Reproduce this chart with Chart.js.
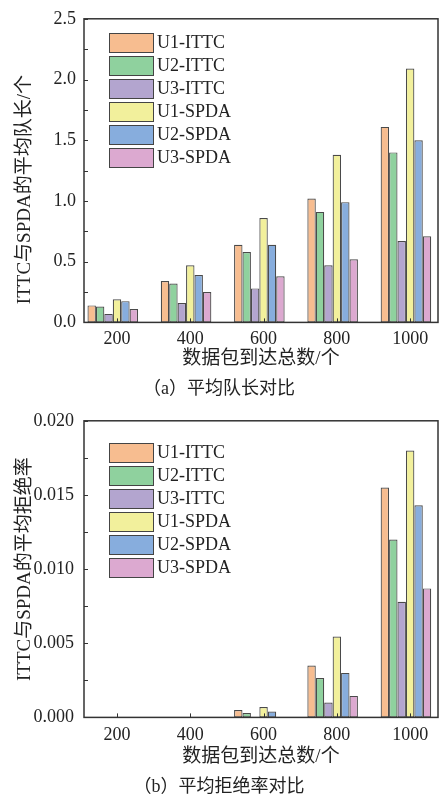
<!DOCTYPE html>
<html>
<head>
<meta charset="utf-8">
<script src="https://cdn.jsdelivr.net/npm/chart.js@4"></script>
<style>
  body { margin: 0; background: #fff; }
  .box { position: relative; width: 440px; }
  .legend { position: absolute; left: 109px; font: 18px 'Liberation Serif', 'Noto Sans CJK SC', serif; color: #222; }
  .legend div { height: 23px; display: flex; align-items: center; }
  .legend span.sw { display: inline-block; width: 43px; height: 18px; border: 1.5px solid #444; margin-right: 3px; }
</style>
</head>
<body>
<div class="box" style="height:400px"><canvas id="chartA"></canvas><div class="legend" id="legA" style="top:31px"></div></div>
<div class="box" style="height:398px"><canvas id="chartB"></canvas><div class="legend" id="legB" style="top:41px"></div></div>
<script>
const counts = [200, 400, 600, 800, 1000];
const seriesNames = ['U1-ITTC', 'U2-ITTC', 'U3-ITTC', 'U1-SPDA', 'U2-SPDA', 'U3-SPDA'];
const colors = ['#F7BD90', '#8FD19E', '#B3A5CF', '#F2F09C', '#87ADDD', '#DCA9D0'];

// (a) average queue length
const queueU1ITTC = [0.14, 0.34, 0.64, 1.02, 1.61];
const queueU2ITTC = [0.13, 0.32, 0.58, 0.91, 1.40];
const queueU3ITTC = [0.07, 0.16, 0.28, 0.47, 0.67];
const queueU1SPDA = [0.19, 0.47, 0.86, 1.38, 2.09];
const queueU2SPDA = [0.175, 0.39, 0.64, 0.99, 1.50];
const queueU3SPDA = [0.11, 0.25, 0.38, 0.52, 0.71];

// (b) average rejection rate
const rejectU1ITTC = [0, 0, 0.0005, 0.0035, 0.0155];
const rejectU2ITTC = [0, 0, 0.0003, 0.00265, 0.0120];
const rejectU3ITTC = [0, 0, 0, 0.001, 0.0078];
const rejectU1SPDA = [0, 0, 0.0007, 0.00545, 0.0180];
const rejectU2SPDA = [0, 0, 0.0004, 0.0030, 0.0143];
const rejectU3SPDA = [0, 0, 0, 0.00145, 0.0087];

const fontFam = "'Liberation Serif', 'Noto Sans CJK SC', serif";
const xMin = 110, xMax = 1076;
const barShift = 11.5; // ticks sit under the 4th bar of each group

// frame round the plot + small inward ticks
const frame = {
    id: 'frame',
    afterDatasetsDraw(chart) {
        let ctx = chart.ctx;
        let a = chart.chartArea;
        let x = chart.scales.x, y = chart.scales.y;
        ctx.save();
        ctx.strokeStyle = '#333';
        ctx.lineWidth = 1.5;
        ctx.strokeRect(a.left, a.top, a.right - a.left, a.bottom - a.top);
        ctx.lineWidth = 1;
        ctx.beginPath();
        x.ticks.forEach(t => {
            let px = Math.round(x.getPixelForValue(t.value)) + 0.5;
            ctx.moveTo(px, a.bottom);
            ctx.lineTo(px, a.bottom - 4);
        });
        let step = y.options.ticks.stepSize / 2;
        for (let v = 0; v <= y.max + 1e-9; v += step) {
            let py = Math.round(y.getPixelForValue(v)) + 0.5;
            ctx.moveTo(a.left, py);
            ctx.lineTo(a.left + 4, py);
        }
        ctx.stroke();
        ctx.restore();
    }
};

function makeLegend(id) {
    let el = document.getElementById(id);
    seriesNames.forEach((n, i) => {
        let row = document.createElement('div');
        row.innerHTML = '<span class="sw" style="background:' + colors[i] + '"></span><span>' + n + '</span>';
        el.appendChild(row);
    });
}

function generateChart(id, series, yMax, yStep, decimals, yTitle, caption, padTop, xHeight, labelPad, yPad) {
    let ctx = document.getElementById(id).getContext('2d');
    return new Chart(ctx, {
        type: 'bar',
        data: {
            datasets: series.map((vals, i) => ({
                label: seriesNames[i],
                data: vals.map((v, j) => ({x: counts[j], y: v})),
                backgroundColor: colors[i],
                borderColor: '#4a4a4a',
                borderWidth: 1.2,
                borderSkipped: false,
                xAxisID: 'xb'
            }))
        },
        options: {
            responsive: true,
            maintainAspectRatio: false,
            animation: false,
            datasets: {bar: {categoryPercentage: 0.69, barPercentage: 1.0}},
            layout: {padding: {top: padTop, right: 2, left: 0, bottom: 0}},
            plugins: {
                legend: {display: false},
                tooltip: {enabled: false},
                title: {
                    display: true,
                    position: 'bottom',
                    text: caption,
                    color: '#222',
                    font: {family: fontFam, size: 18, weight: 'normal'},
                    padding: {top: 0, bottom: 0}
                }
            },
            scales: {
                xb: {
                    type: 'linear',
                    display: false,
                    offset: false,
                    min: xMin + barShift,
                    max: xMax + barShift,
                    afterBuildTicks: s => { s.ticks = counts.map(v => ({value: v})); }
                },
                x: {
                    type: 'linear',
                    position: 'bottom',
                    offset: false,
                    min: xMin,
                    max: xMax,
                    afterBuildTicks: s => { s.ticks = counts.map(v => ({value: v})); },
                    afterFit: s => { s.height = xHeight; },
                    grid: {display: false, drawTicks: false},
                    border: {display: false},
                    ticks: {
                        padding: labelPad,
                        color: '#222',
                        font: {family: fontFam, size: 18},
                        callback: v => String(v)
                    },
                    title: {
                        display: true,
                        text: '数据包到达总数/个',
                        color: '#222',
                        font: {family: fontFam, size: 19},
                        padding: {top: 0, bottom: 8}
                    }
                },
                y: {
                    min: 0,
                    max: yMax,
                    afterFit: s => { s.width = 84; },
                    grid: {display: false, drawTicks: false},
                    border: {display: false},
                    ticks: {
                        stepSize: yStep,
                        padding: yPad,
                        color: '#222',
                        font: {family: fontFam, size: 18},
                        callback: v => v.toFixed(decimals)
                    },
                    title: {
                        display: true,
                        text: yTitle,
                        color: '#222',
                        font: {family: fontFam, size: 19},
                        padding: {top: 14, bottom: 0}
                    }
                }
            }
        },
        plugins: [frame]
    });
}

makeLegend('legA');
makeLegend('legB');

generateChart('chartA',
    [queueU1ITTC, queueU2ITTC, queueU3ITTC, queueU1SPDA, queueU2SPDA, queueU3SPDA],
    2.5, 0.5, 1, 'ITTC与SPDA的平均队长/个        ', '（a）平均队长对比', 15, 56, 6, 8);

generateChart('chartB',
    [rejectU1ITTC, rejectU2ITTC, rejectU3ITTC, rejectU1SPDA, rejectU2SPDA, rejectU3SPDA],
    0.02, 0.005, 3, 'ITTC与SPDA的平均拒绝率', '（b）平均拒绝率对比', 18, 59, 7, 10);
</script>
</body>
</html>
